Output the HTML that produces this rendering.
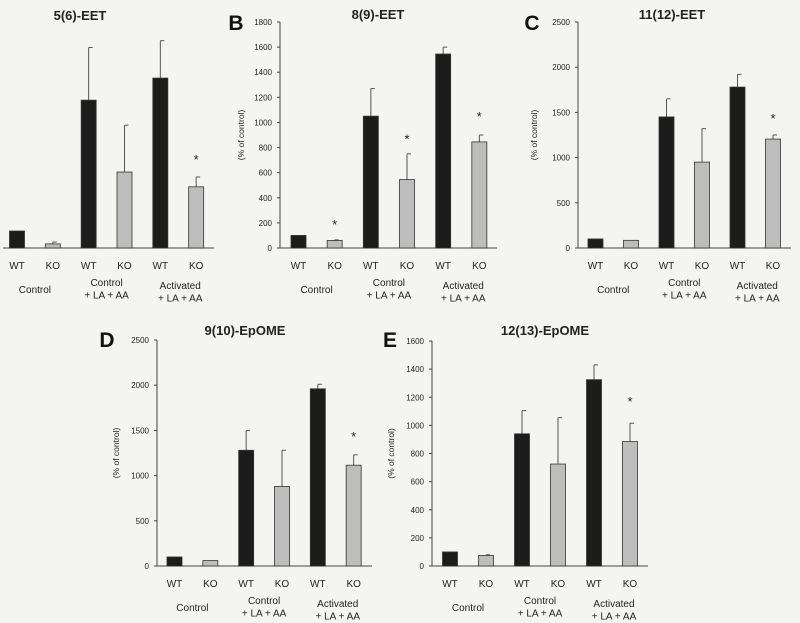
<!DOCTYPE html>
<html><head><meta charset="utf-8">
<style>
html,body{margin:0;padding:0;background:#f4f4f2;}
svg{display:block;font-family:"Liberation Sans",sans-serif;}
</style></head>
<body>
<svg id="fig" width="800" height="623" viewBox="0 0 800 623" xmlns="http://www.w3.org/2000/svg">
<rect x="0" y="0" width="800" height="623" fill="#f4f4f2"/>
</svg>
<script>
const categories = ["WT","KO","WT","KO","WT","KO"];
const groupLabels = [["Control"],["Control","+ LA + AA"],["Activated","+ LA + AA"]];

const valuesA = [100, 24, 870, 447, 1000, 360];
const errorsA = [100, 35, 1180, 723, 1220, 418];
const starsA = [null, null, null, null, null, 530];

const valuesB = [100, 60, 1050, 545, 1545, 845];
const errorsB = [100, 65, 1270, 750, 1600, 900];
const starsB = [null, 200, null, 880, null, 1060];
const ticksB = [0, 200, 400, 600, 800, 1000, 1200, 1400, 1600, 1800];

const valuesC = [100, 85, 1450, 950, 1780, 1205];
const errorsC = [100, 85, 1650, 1320, 1920, 1250];
const starsC = [null, null, null, null, null, 1450];
const ticksC = [0, 500, 1000, 1500, 2000, 2500];

const valuesD = [100, 60, 1280, 880, 1960, 1115];
const errorsD = [100, 60, 1500, 1280, 2010, 1230];
const starsD = [null, null, null, null, null, 1450];
const ticksD = [0, 500, 1000, 1500, 2000, 2500];

const valuesE = [100, 75, 940, 725, 1325, 885];
const errorsE = [100, 80, 1105, 1055, 1430, 1015];
const starsE = [null, null, null, null, null, 1180];
const ticksE = [0, 200, 400, 600, 800, 1000, 1200, 1400, 1600];

const NS = "http://www.w3.org/2000/svg";
const svg = document.getElementById("fig");
function mk(tag, attrs, parent){
  const e = document.createElementNS(NS, tag);
  for (const k in attrs) e.setAttribute(k, attrs[k]);
  (parent||svg).appendChild(e);
  return e;
}
function txt(x,y,s,size,parent,extra){
  const t = mk("text", Object.assign({x:x,y:y,"font-size":size,fill:"#222","text-anchor":"middle"}, extra||{}), parent);
  t.textContent = s;
  return t;
}

function panel(p){
  const g = mk("g", {});
  
  
  const yScale = v => p.y0 - (v / p.max) * (p.y0 - p.yTop);
  const slot = (p.xEnd - p.xAxis) / 6;
  const xCenter = i => p.xAxis + p.offset + slot * i;

  const tt = txt(p.titleX, p.titleY, p.title, 13, g, {"font-weight":"bold"});
  
  
  if (p.letter){
    const lt = txt(p.letterX, p.letterY, p.letter, 21, g, {"font-weight":"bold","fill":"#111"});
    
    
  }
  const xa = mk("line", {x1:p.xAxisLine, y1:p.y0, x2:p.xEnd, y2:p.y0, stroke:"#444","stroke-width":1}, g);
  
  
  if (p.ticks){
    const ya = mk("line", {x1:p.xAxis, y1:p.yTop, x2:p.xAxis, y2:p.y0, stroke:"#444","stroke-width":1}, g);
    
    
    p.ticks.forEach(v => {
      const y = yScale(v);
      mk("line", {x1:p.xAxis-3, y1:y, x2:p.xAxis, y2:y, stroke:"#444"}, g);
      const tl = txt(p.xAxis-8, y+3, String(v), 8, g, {"text-anchor":"end"});
      
      
    });
    const yl = txt(0, 0, "(% of control)", 8.5, g, {transform:"translate("+p.ylabX+","+((p.yTop+p.y0)/2)+") rotate(-90)"});
    
    
  }
  const bw = 15;
  p.values.forEach((v,i) => {
    const cx = xCenter(i);
    const dark = i % 2 === 0;
    const top = yScale(v);
    const err = p.errors[i];
    if (err > v){
      const ey = yScale(err);
      const el = mk("line", {x1:cx, y1:ey, x2:cx, y2:top, stroke:"#555","stroke-width":1}, g);
      
      
      mk("line", {x1:cx, y1:ey, x2:cx+4, y2:ey, stroke:"#555","stroke-width":1}, g);
    }
    const r = mk("rect", {x:cx-bw/2, y:top, width:bw, height:p.y0-top, fill: dark?"#1c1c1c":"#bdbdbd", stroke:"#333","stroke-width":0.8}, g);
    
    
    if (p.stars[i] !== null){
      const s = txt(cx, yScale(p.stars[i]) + 6, "*", 13, g);
      
      
    }
    const cl = txt(cx, p.y0 + 21, categories[i], 10, g);
    
    
  });
  groupLabels.forEach((lines, j) => {
    const cx = (xCenter(2*j) + xCenter(2*j+1)) / 2 + (j===2?2:0);
    const base = j===0 ? p.y0 + 45 : (j===1 ? p.y0 + 38 : p.y0 + 41);
    lines.forEach((s,k) => {
      const gl = txt(cx, base + k*12.5, s, 10, g);
      
      
    });
  });
}

panel({id:"a", title:"5(6)-EET", titleX:80, titleY:20, letter:null,
  xAxis:-1, xAxisLine:3, xEnd:214, yTop:22, y0:248, max:1330, offset:18,
  values:valuesA, errors:errorsA, stars:starsA, ticks:null});
panel({id:"b", title:"8(9)-EET", titleX:378, titleY:19, letter:"B", letterX:236, letterY:30,
  xAxis:280, xAxisLine:280, xEnd:497, yTop:22, y0:248, max:1800, offset:18.5,
  values:valuesB, errors:errorsB, stars:starsB, ticks:ticksB, ylabX:244});
panel({id:"c", title:"11(12)-EET", titleX:672, titleY:19, letter:"C", letterX:532, letterY:30,
  xAxis:578, xAxisLine:578, xEnd:791, yTop:22, y0:248, max:2500, offset:17.5,
  values:valuesC, errors:errorsC, stars:starsC, ticks:ticksC, ylabX:537});
panel({id:"d", title:"9(10)-EpOME", titleX:245, titleY:335, letter:"D", letterX:107, letterY:347,
  xAxis:157, xAxisLine:157, xEnd:372, yTop:340, y0:566, max:2500, offset:17.5,
  values:valuesD, errors:errorsD, stars:starsD, ticks:ticksD, ylabX:119});
panel({id:"e", title:"12(13)-EpOME", titleX:545, titleY:335, letter:"E", letterX:390, letterY:347,
  xAxis:432, xAxisLine:432, xEnd:648, yTop:341, y0:566, max:1600, offset:18,
  values:valuesE, errors:errorsE, stars:starsE, ticks:ticksE, ylabX:394});
</script>
</body></html>
